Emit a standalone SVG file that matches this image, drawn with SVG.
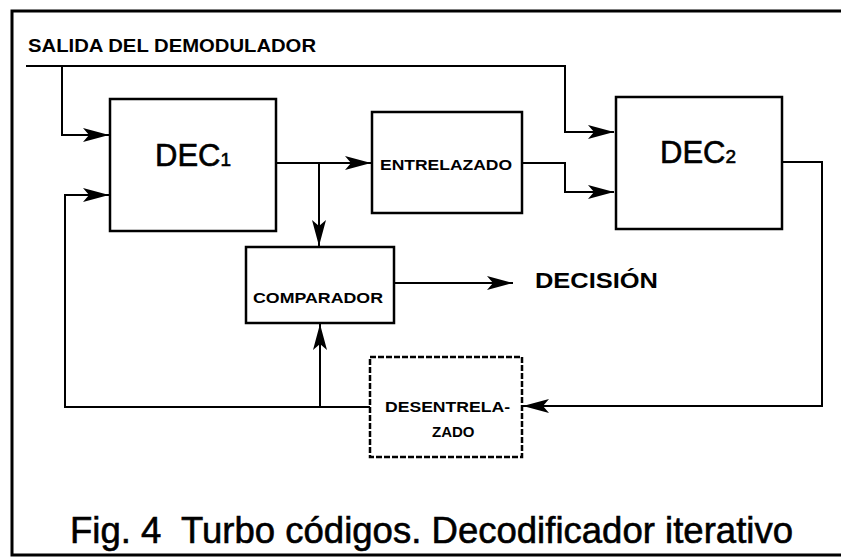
<svg xmlns="http://www.w3.org/2000/svg" width="841" height="557" viewBox="0 0 841 557">
<style>
.box{fill:#fff;stroke:#000;stroke-width:2.5}
.ln{fill:none;stroke:#000;stroke-width:2}
.t{font-family:"Liberation Sans",Arial,sans-serif;font-weight:bold;fill:#000}
.cap{font-family:"Liberation Sans",Arial,sans-serif;fill:#000;stroke:#000;stroke-width:0.6}
</style>
<defs>
<marker id="ah" markerUnits="userSpaceOnUse" markerWidth="28" markerHeight="16" viewBox="0 0 28 16" refX="27" refY="8" orient="auto">
<path d="M27,8 L1,1 L7,8 L1,15 Z" fill="#000"/>
</marker>
</defs>
<rect width="841" height="557" fill="#fff"/>
<g id="frame">
<path d="M841,11 H12 V555 H841" fill="none" stroke="#000" stroke-width="3"/>
</g>
<g id="input-label">
<text class="t" x="28" y="52" font-size="18" textLength="288" lengthAdjust="spacingAndGlyphs">SALIDA DEL DEMODULADOR</text>
</g>
<g id="connectors">
<path class="ln" d="M26,66 H565 V132 H614" marker-end="url(#ah)"/>
<path class="ln" d="M62,66 V135 H109" marker-end="url(#ah)"/>
<path class="ln" d="M276,163 H371" marker-end="url(#ah)"/>
<path class="ln" d="M319,163 V246" marker-end="url(#ah)"/>
<path class="ln" d="M522,163 H565 V192 H614" marker-end="url(#ah)"/>
<path class="ln" d="M394,283 H513" marker-end="url(#ah)"/>
<path class="ln" d="M782,162 H822 V406 H523" marker-end="url(#ah)"/>
<path class="ln" d="M370,407 H65 V195 H109" marker-end="url(#ah)"/>
<path class="ln" d="M320,407 V324" marker-end="url(#ah)"/>
</g>
<g id="dec1">
<rect class="box" x="110" y="99" width="166" height="132"/>
<text class="t" x="155" y="166" font-size="31" style="font-weight:normal;stroke:#000;stroke-width:0.6">DEC<tspan font-size="19">1</tspan></text>
</g>
<g id="entrelazado">
<rect class="box" x="372" y="112" width="150" height="101"/>
<text class="t" x="380" y="170" font-size="15" textLength="132" lengthAdjust="spacingAndGlyphs">ENTRELAZADO</text>
</g>
<g id="dec2">
<rect class="box" x="616" y="97" width="166" height="132"/>
<text class="t" x="660" y="163" font-size="31" style="font-weight:normal;stroke:#000;stroke-width:0.6">DEC<tspan font-size="19">2</tspan></text>
</g>
<g id="comparador">
<rect class="box" x="246" y="247" width="148" height="76"/>
<text class="t" x="253" y="303" font-size="15" textLength="130" lengthAdjust="spacingAndGlyphs">COMPARADOR</text>
</g>
<g id="decision">
<text class="t" x="535" y="288" font-size="22" textLength="123" lengthAdjust="spacingAndGlyphs">DECISIÓN</text>
</g>
<g id="desentrelazado">
<rect class="box" x="370" y="357" width="152" height="100" stroke="#555" stroke-width="1.5" stroke-dasharray="6 2"/>
<text class="t" x="385" y="412" font-size="15" textLength="125" lengthAdjust="spacingAndGlyphs">DESENTRELA-</text>
<text class="t" x="432" y="437" font-size="15">ZADO</text>
</g>
<g id="caption">
<text class="cap" x="70" y="543" font-size="37" xml:space="preserve" textLength="723" lengthAdjust="spacingAndGlyphs">Fig. 4  Turbo códigos. Decodificador iterativo</text>
</g>
</svg>
